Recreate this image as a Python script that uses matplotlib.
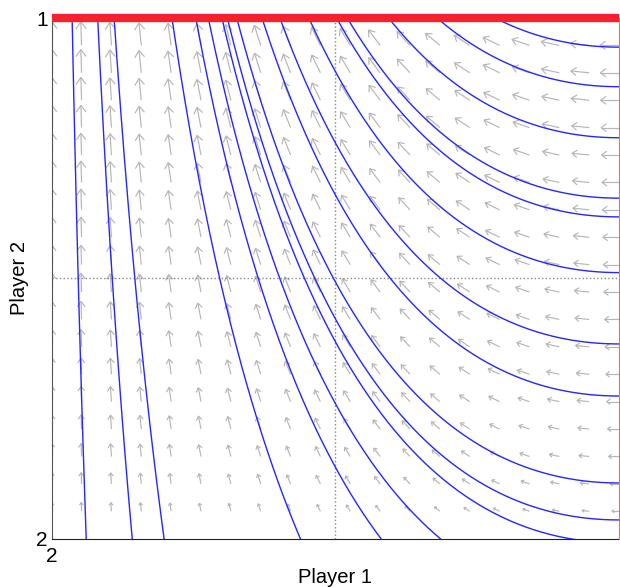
import numpy as np
import matplotlib.pyplot as plt
from matplotlib.collections import LineCollection

plt.rcParams['font.family'] = ['Liberation Sans', 'DejaVu Sans']

# curves
top_x = [0.036, 0.081, 0.110, 0.212, 0.254, 0.276, 0.300]          # curves leaving through y = 1
right_y = [0.036, 0.107, 0.274, 0.374, 0.511, 0.618, 0.654, 0.770, 0.868, 0.944]  # curves hitting x = 1
ratio = 2.0      # dy/dx = -ratio * (1 - x) / x
grid_n = 20

W, H, DPI = 620, 587, 100
ax_l, ax_r, ax_t, ax_b = 51.7, 619.0, 18.0, 538.7
axw, axh = ax_r - ax_l, ax_b - ax_t

fig = plt.figure(figsize=(W / DPI, H / DPI), dpi=DPI)
ax = fig.add_axes([ax_l / W, 1 - ax_b / H, axw / W, axh / H])
ax.set_xlim(0, 1)
ax.set_ylim(0, 1)

# direction field (gray arrows with open heads)
g = np.linspace(0, 1, grid_n)
X, Y = np.meshgrid(g, g)
U = -X * Y
V = ratio * (1 - X) * Y
segs = []
for x0, y0, u, v in zip(X.ravel(), Y.ravel(), U.ravel(), V.ravel()):
    m = np.hypot(u, v)
    if m == 0:
        continue
    L = 19.4 * m ** 0.34
    dx, dy = u * axw, v * axh
    n = np.hypot(dx, dy)
    dx, dy = dx / n, dy / n
    tx, ty = x0 * axw, y0 * axh
    hx, hy = tx + dx * L, ty + dy * L
    b, s = 0.3 * L, 0.22 * L
    p1 = (hx - dx * b - dy * s, hy - dy * b + dx * s)
    p2 = (hx - dx * b + dy * s, hy - dy * b - dx * s)
    pts = [(tx, ty), (hx, hy), p1, p2]
    pts = [(px / axw, py / axh) for px, py in pts]
    segs.append([pts[0], pts[1]])
    segs.append([pts[2], pts[1], pts[3]])
ax.add_collection(LineCollection(segs, colors='#b6b6b6', linewidths=0.85, zorder=1))

# dotted centre lines
ax.axvline(0.5, color='#888888', ls=':', lw=1, zorder=2)
ax.axhline(0.5, color='#888888', ls=':', lw=1, zorder=2)

# trajectories
xx = np.linspace(0.004, 1, 4000)
consts = [1 - ratio * (xt - np.log(xt)) for xt in top_x] + [yr - ratio for yr in right_y]
for c in consts:
    yy = c + ratio * (xx - np.log(xx))
    m = (yy > -0.02) & (yy < 1.02)
    ax.plot(xx[m], yy[m], color='#2626ff', lw=1.0, zorder=3)

# equilibria edges
ax.plot([0, 1], [1, 1], color='#f8202e', lw=6, solid_capstyle='butt', clip_on=False, zorder=5)
ax.plot([1, 1], [0, 1], color='#f06a6a', lw=0.8, clip_on=False, zorder=5)

for side in ['top', 'right']:
    ax.spines[side].set_visible(False)
ax.spines['left'].set_color('#555555')
ax.spines['bottom'].set_color('#222222')

ax.set_xticks([0])
ax.set_xticklabels(['2'])
ax.set_yticks([0, 1])
ax.set_yticklabels(['2', '1'])
ax.tick_params(length=0, labelsize=15)
ax.tick_params(axis='x', pad=6)
ax.tick_params(axis='y', pad=3)

ax.set_xlabel('Player 1', fontsize=14.5)
ax.xaxis.set_label_coords(0.5, -0.085)
ax.xaxis.label.set_va('baseline')
ax.set_ylabel('Player 2', fontsize=14.5)
ax.yaxis.set_label_coords(-0.047, 0.5)
ax.yaxis.label.set_rotation_mode('anchor')
ax.yaxis.label.set_ha('center')
ax.yaxis.label.set_va('baseline')

fig.savefig('out.png', dpi=DPI)
